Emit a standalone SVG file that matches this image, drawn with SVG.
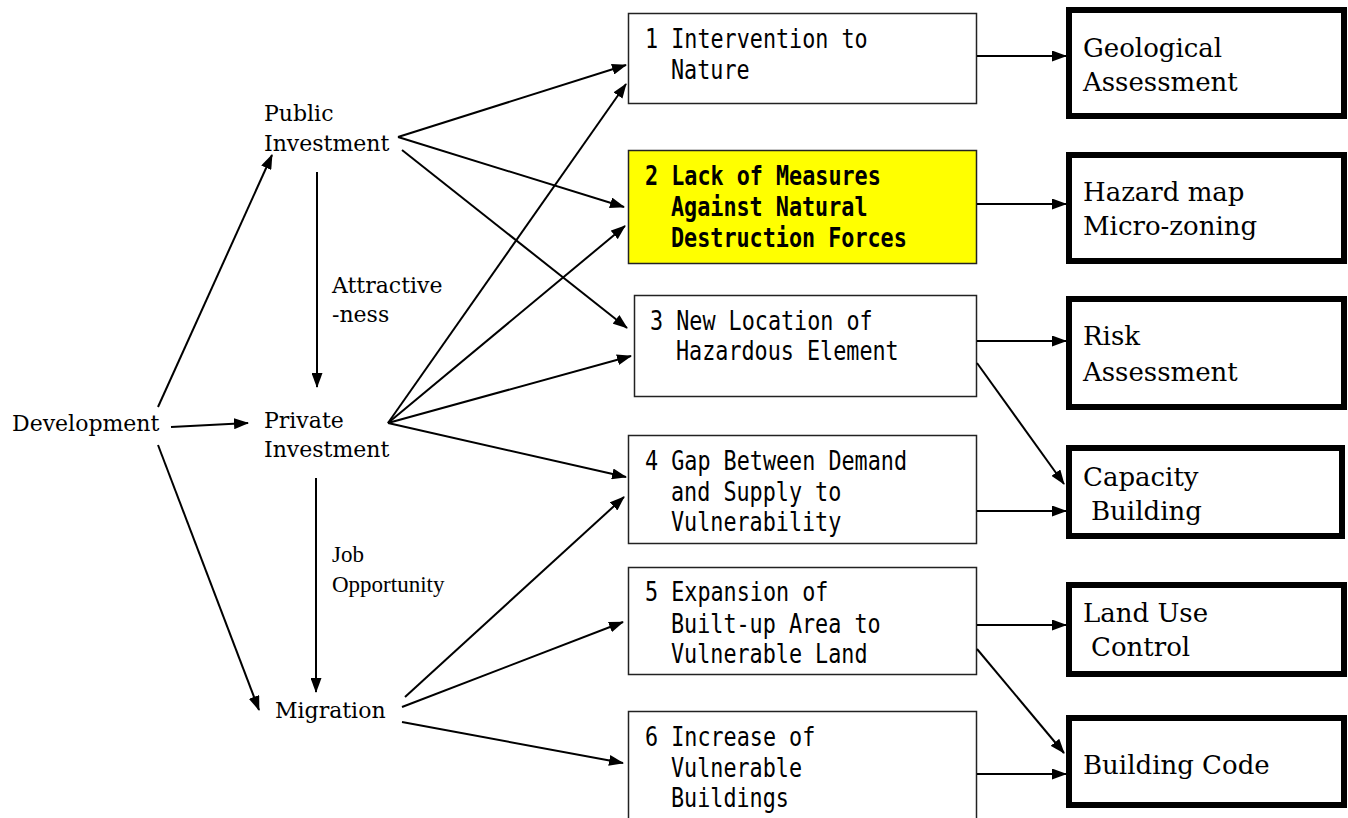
<svg xmlns="http://www.w3.org/2000/svg" width="1348" height="818" viewBox="0 0 1348 818">
<style>
.bg{fill:#fff}
.mid{fill:#fff;stroke:#222;stroke-width:1.5}
.hl{fill:#ffff00;stroke:#222;stroke-width:1.5}
.out{fill:#fff;stroke:#000;stroke-width:6}
.ser{font-family:"DejaVu Serif",serif;font-size:22px;fill:#000}
.ser2{font-family:"Liberation Serif",serif;font-size:23px;fill:#000}
.big{font-family:"DejaVu Serif",serif;font-size:26px;fill:#000}
.mono{font-family:"DejaVu Sans Mono","Liberation Mono",monospace;font-size:26px;fill:#000}
.bold{font-weight:bold}
.con line{stroke:#000;stroke-width:2;marker-end:url(#ah)}
</style>
<defs>
<marker id="ah" markerWidth="15" markerHeight="11" refX="14" refY="5.5" orient="auto" markerUnits="userSpaceOnUse"><path d="M0,0 L15,5.5 L0,11 z" fill="#000"/></marker>
</defs>
<rect class="bg" x="0" y="0" width="1348" height="818"/>

<g id="development"><text class="ser" x="12" y="431">Development</text></g>
<g id="public-investment"><text class="ser" x="264" y="121">Public</text><text class="ser" x="264" y="151">Investment</text></g>
<g id="private-investment"><text class="ser" x="264" y="428">Private</text><text class="ser" x="264" y="457">Investment</text></g>
<g id="migration"><text class="ser" x="275" y="718">Migration</text></g>
<g id="label-attractiveness"><text class="ser" x="332" y="293">Attractive</text><text class="ser" x="332" y="322">-ness</text></g>
<g id="label-job"><text class="ser2" x="332" y="562">Job</text><text class="ser2" x="332" y="592">Opportunity</text></g>

<g id="box1"><rect class="mid" x="628.5" y="13.5" width="348" height="90"/>
<text class="mono" x="645" y="48" textLength="222.7" lengthAdjust="spacingAndGlyphs">1 Intervention to</text>
<text class="mono" x="671" y="79" textLength="78.6" lengthAdjust="spacingAndGlyphs">Nature</text></g>

<g id="box2"><rect class="hl" x="628.5" y="150.5" width="348" height="113"/>
<text class="mono bold" x="645" y="185" textLength="235.8" lengthAdjust="spacingAndGlyphs">2 Lack of Measures</text>
<text class="mono bold" x="671" y="216" textLength="196.5" lengthAdjust="spacingAndGlyphs">Against Natural</text>
<text class="mono bold" x="671" y="247" textLength="235.8" lengthAdjust="spacingAndGlyphs">Destruction Forces</text></g>

<g id="box3"><rect class="mid" x="634.5" y="295.5" width="342" height="101"/>
<text class="mono" x="650" y="330" textLength="222.7" lengthAdjust="spacingAndGlyphs">3 New Location of</text>
<text class="mono" x="676" y="360" textLength="222.7" lengthAdjust="spacingAndGlyphs">Hazardous Element</text></g>

<g id="box4"><rect class="mid" x="628.5" y="435.5" width="348" height="108"/>
<text class="mono" x="645" y="470" textLength="262" lengthAdjust="spacingAndGlyphs">4 Gap Between Demand</text>
<text class="mono" x="671" y="501" textLength="170.3" lengthAdjust="spacingAndGlyphs">and Supply to</text>
<text class="mono" x="671" y="531" textLength="170.3" lengthAdjust="spacingAndGlyphs">Vulnerability</text></g>

<g id="box5"><rect class="mid" x="628.5" y="567.5" width="348" height="107"/>
<text class="mono" x="645" y="601" textLength="183.4" lengthAdjust="spacingAndGlyphs">5 Expansion of</text>
<text class="mono" x="671" y="633" textLength="209.6" lengthAdjust="spacingAndGlyphs">Built-up Area to</text>
<text class="mono" x="671" y="663" textLength="196.5" lengthAdjust="spacingAndGlyphs">Vulnerable Land</text></g>

<g id="box6"><rect class="mid" x="628.5" y="711.5" width="348" height="120"/>
<text class="mono" x="645" y="746" textLength="170.3" lengthAdjust="spacingAndGlyphs">6 Increase of</text>
<text class="mono" x="671" y="777" textLength="131" lengthAdjust="spacingAndGlyphs">Vulnerable</text>
<text class="mono" x="671" y="807" textLength="117.9" lengthAdjust="spacingAndGlyphs">Buildings</text></g>

<g id="geological"><rect class="out" x="1069" y="10" width="275" height="106"/>
<text class="big" x="1083" y="57">Geological</text><text class="big" x="1083" y="91">Assessment</text></g>
<g id="hazard"><rect class="out" x="1069" y="155" width="275" height="106"/>
<text class="big" x="1083" y="201">Hazard map</text><text class="big" x="1083" y="235">Micro-zoning</text></g>
<g id="risk"><rect class="out" x="1069" y="299" width="275" height="108"/>
<text class="big" x="1083" y="345">Risk</text><text class="big" x="1083" y="381">Assessment</text></g>
<g id="capacity"><rect class="out" x="1069" y="448" width="273" height="88"/>
<text class="big" x="1083" y="486">Capacity</text><text class="big" x="1091" y="520">Building</text></g>
<g id="landuse"><rect class="out" x="1069" y="585" width="275" height="89"/>
<text class="big" x="1083" y="622">Land Use</text><text class="big" x="1091" y="656">Control</text></g>
<g id="buildingcode"><rect class="out" x="1069" y="718" width="275" height="87"/>
<text class="big" x="1083" y="774">Building Code</text></g>

<g id="connectors" class="con">
<line x1="158" y1="407" x2="272" y2="155"/>
<line x1="171" y1="427" x2="248" y2="423"/>
<line x1="158" y1="445" x2="259" y2="710"/>
<line x1="317" y1="172" x2="317" y2="387"/>
<line x1="316" y1="478" x2="316" y2="692"/>

<line x1="398" y1="137" x2="626" y2="65"/>
<line x1="398" y1="137" x2="624" y2="207"/>
<line x1="402" y1="150" x2="627" y2="328"/>

<line x1="388" y1="423" x2="626" y2="84"/>
<line x1="388" y1="423" x2="625" y2="226"/>
<line x1="388" y1="423" x2="631" y2="356"/>
<line x1="388" y1="423" x2="626" y2="477"/>

<line x1="405" y1="697" x2="624" y2="497"/>
<line x1="402" y1="707" x2="623" y2="622"/>
<line x1="402" y1="722" x2="623" y2="763"/>

<line x1="977" y1="56" x2="1066" y2="56"/>
<line x1="977" y1="204" x2="1066" y2="204"/>
<line x1="977" y1="341" x2="1066" y2="341"/>
<line x1="977" y1="363" x2="1064" y2="484"/>
<line x1="977" y1="511" x2="1066" y2="511"/>
<line x1="977" y1="625" x2="1066" y2="625"/>
<line x1="977" y1="649" x2="1064" y2="753"/>
<line x1="977" y1="774" x2="1066" y2="774"/>
</g>
</svg>
